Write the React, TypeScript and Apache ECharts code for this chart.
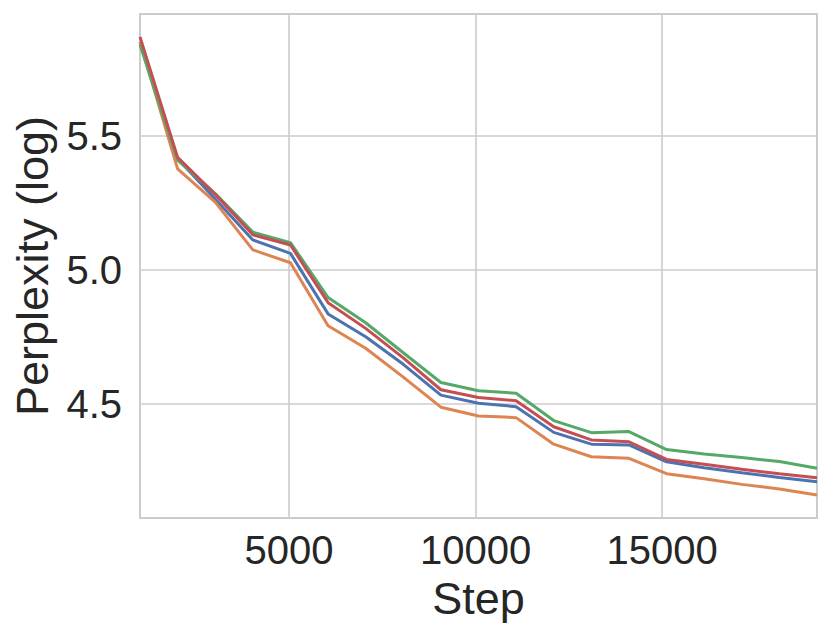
import React, { useEffect, useRef } from "react";
import * as echarts from "echarts";

const stepUnit = 1008;
const steps: number[] = Array.from({ length: 19 }, (_, i) => (i + 1) * stepUnit);

const blueValues = [5.85, 5.415, 5.265, 5.112, 5.062, 4.836, 4.751, 4.648, 4.533, 4.503, 4.49, 4.394, 4.35, 4.347, 4.284, 4.262, 4.243, 4.226, 4.21];
const orangeValues = [5.85, 5.377, 5.253, 5.075, 5.027, 4.792, 4.708, 4.6, 4.488, 4.455, 4.449, 4.35, 4.303, 4.297, 4.24, 4.221, 4.2, 4.183, 4.16];
const greenValues = [5.84, 5.41, 5.285, 5.141, 5.102, 4.897, 4.803, 4.691, 4.58, 4.549, 4.54, 4.438, 4.393, 4.397, 4.33, 4.313, 4.3, 4.285, 4.26];
const redValues = [5.8695, 5.42, 5.282, 5.131, 5.093, 4.878, 4.782, 4.672, 4.553, 4.524, 4.512, 4.415, 4.366, 4.359, 4.293, 4.275, 4.256, 4.24, 4.225];

const seriesNames = ["Run A", "Run B", "Run C", "Run D"];
const seriesColors = ["#4C72B0", "#DD8452", "#55A868", "#C44E52"];
const xTickLabels = [5000, 10000, 15000];
const yTickLabels = [4.5, 5.0, 5.5];

const FONT = "'Liberation Sans', Arial, sans-serif";
const TEXT = "#262626";
const GRID = "#cccccc";

export default function App() {
  const ref = useRef<HTMLDivElement>(null);
  useEffect(() => {
    if (!ref.current) return;
    const chart = echarts.init(ref.current, undefined, { renderer: "svg" });
    const allVals = [...blueValues, ...orangeValues, ...greenValues, ...redValues];
    const dMin = Math.min(...allVals);
    const dMax = Math.max(...allVals);
    const pad = (dMax - dMin) * 0.05;
    const data = [blueValues, orangeValues, greenValues, redValues];
    chart.setOption({
      animation: false,
      backgroundColor: "#ffffff",
      grid: {
        left: 140,
        top: 14,
        width: 677,
        height: 504,
        show: true,
        borderColor: GRID,
        borderWidth: 2,
        backgroundColor: "transparent",
      },
      xAxis: {
        type: "value",
        min: steps[0],
        max: steps[steps.length - 1],
        splitNumber: 4,
        name: "Step",
        nameLocation: "middle",
        nameGap: 58,
        nameTextStyle: { fontFamily: FONT, fontSize: 45, color: TEXT },
        axisLine: { show: false },
        axisTick: { show: false },
        axisLabel: {
          fontFamily: FONT,
          fontSize: 40,
          color: TEXT,
          margin: 12,
          showMinLabel: false,
          showMaxLabel: false,
          formatter: (v: number) => (xTickLabels.includes(Math.round(v)) ? String(Math.round(v)) : ""),
        },
        splitLine: { show: true, lineStyle: { color: GRID, width: 1.6 } },
      },
      yAxis: {
        type: "value",
        min: dMin - pad,
        max: dMax + pad,
        splitNumber: 4,
        name: "Perplexity (log)",
        nameLocation: "middle",
        nameGap: 82,
        nameTextStyle: { fontFamily: FONT, fontSize: 45, color: TEXT },
        axisLine: { show: false },
        axisTick: { show: false },
        axisLabel: {
          fontFamily: FONT,
          fontSize: 40,
          color: TEXT,
          margin: 18,
          showMinLabel: false,
          showMaxLabel: false,
          formatter: (v: number) => {
            const t = yTickLabels.find((y) => Math.abs(y - v) < 1e-6);
            return t !== undefined ? t.toFixed(1) : "";
          },
        },
        splitLine: { show: true, lineStyle: { color: GRID, width: 1.6 } },
      },
      series: data.map((vals, i) => ({
        name: seriesNames[i],
        type: "line",
        data: steps.map((s, j) => [s, vals[j]]),
        showSymbol: false,
        symbol: "none",
        lineStyle: { color: seriesColors[i], width: 3 },
        itemStyle: { color: seriesColors[i] },
        z: 2 + i,
      })),
    });
    return () => chart.dispose();
  }, []);
  return (
    <div
      ref={ref}
      style={{ position: "absolute", left: 0, top: 0, width: 831, height: 638 }}
    />
  );
}
